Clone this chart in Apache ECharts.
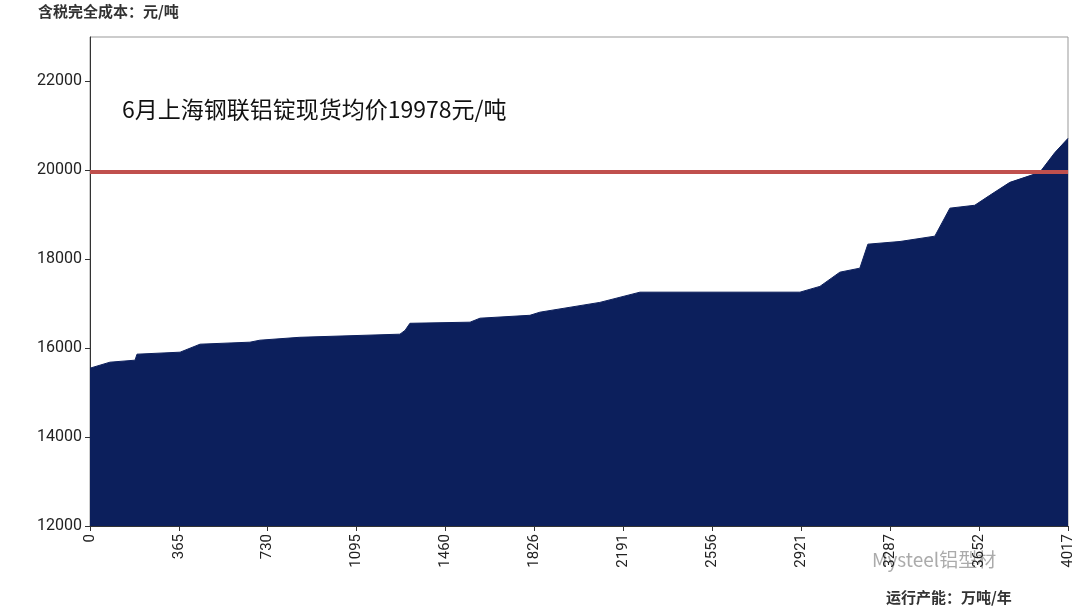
<!DOCTYPE html>
<html><head><meta charset="utf-8">
<script src="https://cdn.jsdelivr.net/npm/echarts@6/dist/echarts.min.js"></script>
<style>html,body{margin:0;background:#fff}#c{width:1080px;height:614px}</style>
</head><body><div id="c"></div>
<script>
// 运行产能 (万吨/年) 累计 and 含税完全成本 (元/吨)
var capacity = [0, 82, 185, 193, 370, 452, 657, 698, 862, 1273, 1294, 1314, 1561, 1602, 1807, 1848, 2094, 2259, 2916, 2998, 3080, 3162, 3195, 3327, 3470, 3532, 3634, 3696, 3778, 3901, 3963, 4017];
var cost = [15550, 15685, 15730, 15865, 15910, 16090, 16135, 16180, 16245, 16315, 16400, 16560, 16585, 16675, 16740, 16810, 17030, 17260, 17260, 17390, 17710, 17800, 18340, 18400, 18520, 19150, 19215, 19440, 19730, 19955, 20400, 20720];
var xTicks = [0, 365, 730, 1095, 1460, 1826, 2191, 2556, 2921, 3287, 3652, 4017];
var yTicks = [12000, 14000, 16000, 18000, 20000, 22000];
var avgPrice = 19978;

var chart = echarts.init(document.getElementById('c'));
var pts = capacity.map(function (v, i) { return [v, cost[i]]; });
var cjk = '"Noto Sans CJK SC", sans-serif';
function plain(v) { return String(Math.round(v)); }
chart.setOption({
    animation: false,
    grid: { left: 90, right: 12, top: 37, bottom: 88, show: true, borderColor: '#999', borderWidth: 1 },
    xAxis: {
        type: 'value', min: 0, max: 4017,
        axisLine: { show: true, lineStyle: { color: '#333' } },
        axisTick: { show: true, customValues: xTicks, lineStyle: { color: '#333' } },
        axisLabel: { customValues: xTicks, formatter: plain, rotate: 90, fontSize: 15, color: '#222', fontFamily: 'Roboto' },
        splitLine: { show: false }
    },
    yAxis: {
        type: 'value', min: 12000, max: 23000,
        axisLabel: { customValues: yTicks, formatter: plain, fontSize: 16, color: '#222', fontFamily: 'Roboto' },
        axisTick: { show: true, customValues: yTicks },
        axisLine: { show: true, lineStyle: { color: '#333' } },
        splitLine: { show: false }
    },
    series: [{
        type: 'line', data: pts, symbol: 'none',
        lineStyle: { color: '#0c1f5c', width: 1 },
        areaStyle: { color: '#0c1f5c', opacity: 1, origin: 'start' },
        markLine: {
            silent: true, symbol: 'none', label: { show: false },
            lineStyle: { color: '#c0504d', width: 4, type: 'solid' },
            data: [{ yAxis: avgPrice }]
        }
    }],
    graphic: [
        { type: 'text', left: 38, top: 4, style: { text: '含税完全成本：元/吨', font: 'bold 15px ' + cjk, fill: '#333' } },
        { type: 'text', left: 886, top: 590, style: { text: '运行产能：万吨/年', font: 'bold 15px ' + cjk, fill: '#333' } },
        { type: 'text', left: 122, top: 98, style: { text: '6月上海钢联铝锭现货均价19978元/吨', font: '23px ' + cjk, fill: '#111' } },
        { type: 'text', left: 872, top: 550, style: { text: 'Mysteel铝型材', font: '19px ' + cjk, fill: 'rgba(150,150,150,0.8)' } }
    ]
});
</script></body></html>
